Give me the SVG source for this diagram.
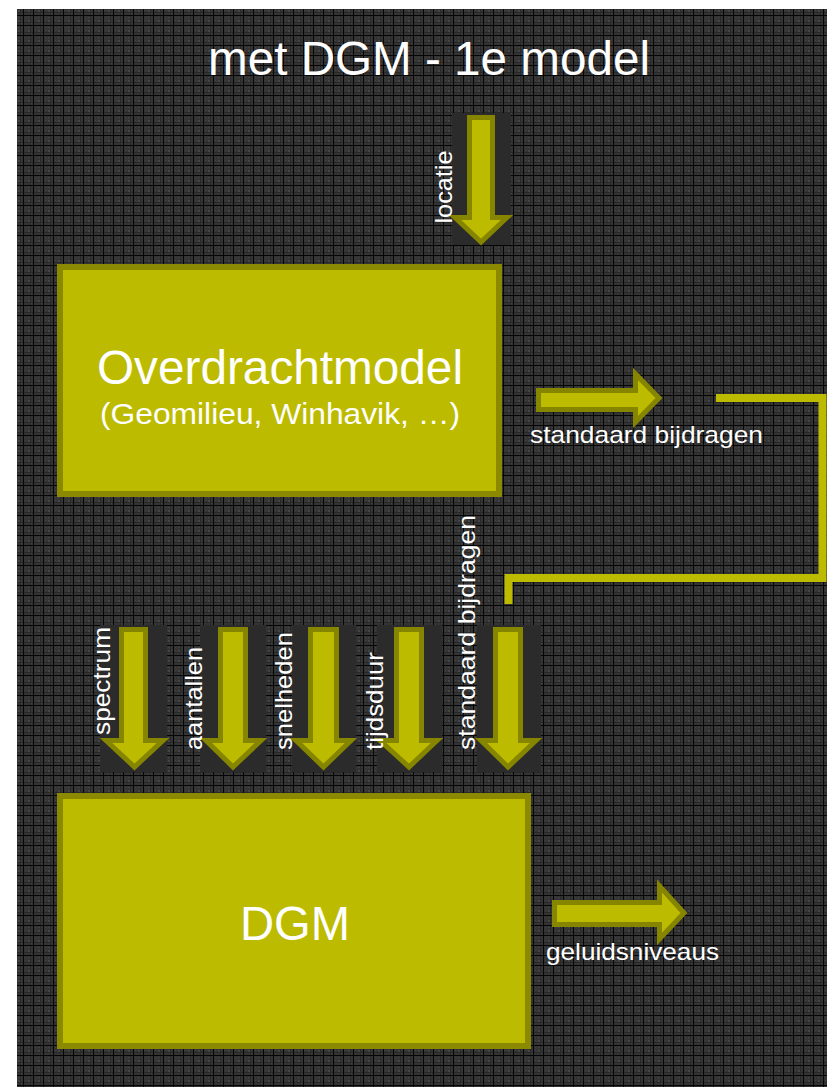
<svg xmlns="http://www.w3.org/2000/svg" width="827" height="1087" viewBox="0 0 827 1087">
  <defs>
    <!-- dark woven backdrop -->
    <pattern id="weave" x="17" y="9" width="10" height="10" patternUnits="userSpaceOnUse">
      <rect width="10" height="10" fill="#343434"/>
      <rect x="1" y="1" width="2" height="2" fill="#444444"/>
      <rect x="4" y="4" width="1" height="1" fill="#444444"/>
      <rect x="8" y="1" width="1" height="1" fill="#424242"/>
      <rect x="1" y="8" width="2" height="1" fill="#424242"/>
      <rect x="8" y="8" width="1" height="1" fill="#414141"/>
      <rect x="3" y="0" width="1" height="10" fill="#282828"/>
      <rect x="0" y="3" width="10" height="1" fill="#282828"/>
      <rect x="6" y="0" width="1" height="10" fill="#050505"/>
      <rect x="0" y="6" width="10" height="1" fill="#050505"/>
    </pattern>
    <style>
      .box { fill: #bdbb00; stroke: #8b8900; stroke-width: 6; }
      .arrow { fill: #bdbb00; stroke: #868500; stroke-width: 5; stroke-linejoin: miter; }
      .pad { fill: #2b2b2b; }
      .link { fill: none; stroke: #bdbb00; stroke-width: 8; stroke-linejoin: miter; stroke-linecap: butt; }
      text { font-family: "Liberation Sans", Arial, sans-serif; fill: #ffffff; }
      .title { font-size: 48px; }
      .big { font-size: 48px; text-anchor: middle; }
      .sub { font-size: 30px; text-anchor: middle; }
      .lbl { font-size: 24px; }
      .vlbl { font-size: 24px; text-anchor: middle; }
    </style>
  </defs>

  <!-- backdrop -->
  <rect x="0" y="0" width="827" height="1087" fill="#ffffff"/>
  <rect x="17" y="9" width="810" height="1078" fill="url(#weave)"/>

  <text class="title" x="429" y="75" text-anchor="middle" textLength="442" lengthAdjust="spacingAndGlyphs">met DGM - 1e model</text>

  <!-- input: locatie -->
  <g id="in-locatie">
    <rect class="pad" x="452" y="113" width="59" height="132"/>
    <polygon class="arrow" points="469.5,117.5 492.5,117.5 492.5,217.5 507,217.5 481,242 455,217.5 469.5,217.5"/>
    <text class="vlbl" transform="translate(452,187) rotate(-90)" textLength="73" lengthAdjust="spacingAndGlyphs">locatie</text>
  </g>

  <!-- node: Overdrachtmodel -->
  <g id="node-overdrachtmodel">
    <rect class="box" x="60" y="267" width="439" height="227"/>
    <text class="big" x="280" y="384" textLength="366" lengthAdjust="spacingAndGlyphs">Overdrachtmodel</text>
    <text class="sub" x="280" y="424" textLength="360" lengthAdjust="spacingAndGlyphs">(Geomilieu, Winhavik, …)</text>
  </g>

  <!-- output: standaard bijdragen -->
  <g id="out-standaard-bijdragen">
    <polygon class="arrow" points="538.5,390.5 635.5,390.5 635.5,374 659,398 635.5,422 635.5,409.5 538.5,409.5"/>
    <text class="lbl" x="530" y="443" textLength="233" lengthAdjust="spacingAndGlyphs">standaard bijdragen</text>
  </g>

  <!-- feedback line back into DGM inputs -->
  <g id="connectors">
    <path class="link" d="M716,398 H822.5 V578 H508.5 V604"/>
  </g>

  <!-- DGM inputs -->
  <g id="in-spectrum">
    <rect class="pad" x="100" y="625" width="67" height="147"/>
    <polygon class="arrow" points="121.5,629.5 145.5,629.5 145.5,740.5 163,740.5 134.5,767 106,740.5 121.5,740.5"/>
    <text class="vlbl" transform="translate(110,681) rotate(-90)" textLength="108" lengthAdjust="spacingAndGlyphs">spectrum</text>
  </g>
  <g id="in-aantallen">
    <rect class="pad" x="200" y="625" width="66" height="147"/>
    <polygon class="arrow" points="220.5,629.5 245.5,629.5 245.5,740.5 261,740.5 233,767 206,740.5 220.5,740.5"/>
    <text class="vlbl" transform="translate(202,698.5) rotate(-90)" textLength="103" lengthAdjust="spacingAndGlyphs">aantallen</text>
  </g>
  <g id="in-snelheden">
    <rect class="pad" x="292" y="625" width="64" height="147"/>
    <polygon class="arrow" points="310.5,629.5 336.5,629.5 336.5,740.5 351,740.5 323.5,767 296,740.5 310.5,740.5"/>
    <text class="vlbl" transform="translate(292,691) rotate(-90)" textLength="118" lengthAdjust="spacingAndGlyphs">snelheden</text>
  </g>
  <g id="in-tijdsduur">
    <rect class="pad" x="377" y="625" width="65" height="147"/>
    <polygon class="arrow" points="396.5,629.5 421.5,629.5 421.5,740.5 437,740.5 409,767 380,740.5 396.5,740.5"/>
    <text class="vlbl" transform="translate(383,701) rotate(-90)" textLength="98" lengthAdjust="spacingAndGlyphs">tijdsduur</text>
  </g>
  <g id="in-standaard-bijdragen">
    <rect class="pad" x="477" y="625" width="64" height="147"/>
    <polygon class="arrow" points="495.5,629.5 520.5,629.5 520.5,740.5 536,740.5 508,767 481,740.5 495.5,740.5"/>
    <text class="vlbl" transform="translate(475,632.5) rotate(-90)" textLength="235" lengthAdjust="spacingAndGlyphs">standaard bijdragen</text>
  </g>

  <!-- node: DGM -->
  <g id="node-dgm">
    <rect class="box" x="60" y="796" width="468" height="250"/>
    <text class="big" x="295" y="940" textLength="110" lengthAdjust="spacingAndGlyphs">DGM</text>
  </g>

  <!-- output: geluidsniveaus -->
  <g id="out-geluidsniveaus">
    <polygon class="arrow" points="554.5,902.5 659.5,902.5 659.5,886 684,913 659.5,939 659.5,924.5 554.5,924.5"/>
    <text class="lbl" x="546" y="960" textLength="173" lengthAdjust="spacingAndGlyphs">geluidsniveaus</text>
  </g>
</svg>
